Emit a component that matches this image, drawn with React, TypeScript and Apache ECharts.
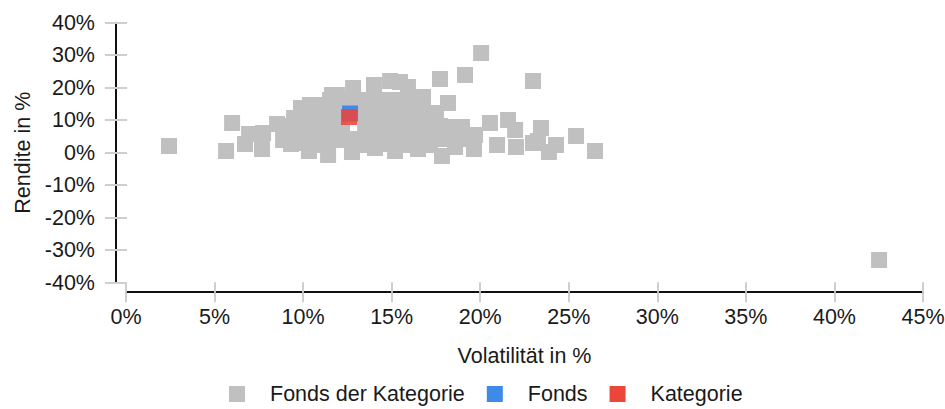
import React, { useEffect, useRef } from "react";
import * as echarts from "echarts";

// Volatilität (x, %) and Rendite (y, %) of the funds in the category
const categoryFundsVol = [
  2.43, 5.99, 5.65, 6.72, 6.95, 7.74, 7.68, 8.53, 20.05, 19.14,
  17.73, 22.98, 18.18, 20.55, 21.57, 21.97, 20.95, 22.02, 23.43, 22.98,
  23.26, 23.88, 24.28, 25.41, 26.48, 42.52, 17.84, 19.65, 19.71, 18.52,
  18.97, 8.87, 9.32, 9.49, 9.88, 10.39, 10.73, 10.33, 11.41, 11.63,
  11.91, 12.82, 12.76, 14.0, 14.06, 14.91, 15.47, 15.19, 15.92, 16.77,
  16.49, 11.91, 11.07, 11.52, 12.37, 13.21, 14.06, 14.91, 15.75, 16.6,
  10.11, 10.95, 11.8, 13.5, 14.34, 15.19, 16.04, 16.88, 17.5, 8.98,
  9.82, 10.67, 11.52, 13.5, 14.34, 15.19, 16.04, 16.88, 17.73, 9.82,
  10.67, 12.65, 13.21, 14.06, 14.91, 15.75, 16.6, 17.45, 18.29, 19.14,
  13.21, 14.62, 15.75, 17.17, 18.58, 12.08, 12.93, 9.37, 10.5, 10.05,
  10.84, 11.29, 12.2, 14.7, 16.3, 17.9,
];
const categoryFundsRet = [
  2.06, 9.14, 0.52, 2.68, 5.75, 6.06, 1.14, 8.83, 30.68, 23.91,
  22.68, 22.06, 15.29, 9.14, 10.06, 6.98, 2.37, 1.75, 7.6, 2.98,
  3.6, 0.22, 2.37, 5.14, 0.52, -33.02, -1.02, 1.14, 5.45, 7.91,
  7.91, 3.91, 2.68, 10.68, 13.75, 14.68, 14.68, 0.52, -0.71, 17.75,
  17.75, 19.91, 0.22, 20.83, 1.45, 22.06, 21.75, 0.52, 20.22, 17.14,
  1.14, 3.91, 2.37, 16.22, 16.22, 16.22, 16.22, 16.22, 16.22, 16.22,
  12.22, 12.22, 12.22, 12.22, 12.22, 12.22, 12.22, 12.22, 12.22, 8.22,
  8.22, 8.22, 8.22, 8.22, 8.22, 8.22, 8.22, 8.22, 8.22, 4.22,
  4.22, 4.22, 4.22, 4.22, 4.22, 4.22, 4.22, 4.22, 4.22, 4.22,
  2.37, 2.68, 2.37, 2.37, 1.75, 8.52, 13.14, 6.37, 6.37, 2.98,
  3.91, 5.75, 6.1, 6.2, 6.0, 5.9,
];
const fondsPoint = [12.65, 12.06];
const kategoriePoint = [12.59, 10.98];

const seriesNames = ["Fonds der Kategorie", "Fonds", "Kategorie"];
const xAxisTitle = "Volatilität in %";
const yAxisTitle = "Rendite in %";

const FONT = "'Liberation Sans', Arial, Helvetica, sans-serif";
const TEXT = "#1a1a1a";
const FS = 21.5;

export default function App() {
  const ref = useRef<HTMLDivElement>(null);
  useEffect(() => {
    document.body.style.margin = "0";
    const chart = echarts.init(ref.current!, null, { renderer: "svg" });
    const grayData = categoryFundsVol.map((v, i) => [v, categoryFundsRet[i]]);
    const label = {
      formatter: "{value}%",
      color: TEXT,
      fontSize: FS,
      fontFamily: FONT,
    };
    const option: any = {
      animation: false,
      textStyle: { fontFamily: FONT },
      grid: {
        left: 126,
        right: 22,
        top: 22.7,
        bottom: 126.3,
        containLabel: false,
        outerBoundsMode: "none",
      },
      legend: {
        data: seriesNames,
        left: 229,
        top: 383,
        padding: 0,
        icon: "rect",
        itemWidth: 16,
        itemHeight: 16,
        itemGap: 22,
        itemStyle: { opacity: 1 },
        textStyle: {
          color: TEXT,
          fontSize: FS,
          fontFamily: FONT,
          padding: [0, 0, 0, 20],
        },
      },
      xAxis: [
        {
          type: "value",
          position: "bottom",
          min: 0,
          max: 45,
          interval: 5,
          offset: 9.5,
          name: xAxisTitle,
          nameLocation: "middle",
          nameGap: 53,
          nameTextStyle: { color: TEXT, fontSize: FS, fontFamily: FONT },
          axisLine: { show: true, onZero: false, lineStyle: { color: "#111", width: 2 } },
          axisTick: { show: true, length: 10, lineStyle: { color: "#cfcfcf", width: 2 } },
          axisLabel: { ...label, margin: 14 },
          splitLine: { show: false },
        },
        {
          type: "value",
          position: "bottom",
          min: 0,
          max: 45,
          interval: 5,
          offset: 9.5,
          axisLine: { show: false, onZero: false },
          axisTick: { show: true, inside: true, length: 10, lineStyle: { color: "#cfcfcf", width: 2 } },
          axisLabel: { show: false },
          splitLine: { show: false },
        },
      ],
      yAxis: [
        {
          type: "value",
          position: "left",
          min: -40,
          max: 40,
          interval: 10,
          offset: 10,
          name: yAxisTitle,
          nameLocation: "middle",
          nameGap: 73,
          nameTextStyle: { color: TEXT, fontSize: FS, fontFamily: FONT },
          axisLine: { show: true, onZero: false, lineStyle: { color: "#111", width: 2 } },
          axisTick: { show: true, length: 11, lineStyle: { color: "#cfcfcf", width: 2 } },
          axisLabel: { ...label, margin: 21 },
          splitLine: { show: false },
        },
        {
          type: "value",
          position: "left",
          min: -40,
          max: 40,
          interval: 10,
          offset: 10,
          axisLine: { show: false, onZero: false },
          axisTick: { show: true, inside: true, length: 11, lineStyle: { color: "#cfcfcf", width: 2 } },
          axisLabel: { show: false },
          splitLine: { show: false },
        },
      ],
      series: [
        {
          name: seriesNames[0],
          type: "scatter",
          xAxisIndex: 0,
          yAxisIndex: 0,
          symbol: "rect",
          symbolSize: 16,
          itemStyle: { color: "#c0c0c0", opacity: 1 },
          data: grayData,
          z: 1,
        },
        {
          name: seriesNames[1],
          type: "scatter",
          xAxisIndex: 0,
          yAxisIndex: 0,
          symbol: "rect",
          symbolSize: 16,
          itemStyle: { color: "#3f8ae8", opacity: 1 },
          data: [fondsPoint],
          z: 2,
        },
        {
          name: seriesNames[2],
          type: "scatter",
          xAxisIndex: 0,
          yAxisIndex: 0,
          symbol: "rect",
          symbolSize: 16,
          itemStyle: { color: "#ec463b", opacity: 0.88 },
          data: [kategoriePoint],
          z: 3,
        },
      ],
    };
    chart.setOption(option);
    return () => chart.dispose();
  }, []);
  return <div ref={ref} style={{ width: 945, height: 409 }} />;
}
